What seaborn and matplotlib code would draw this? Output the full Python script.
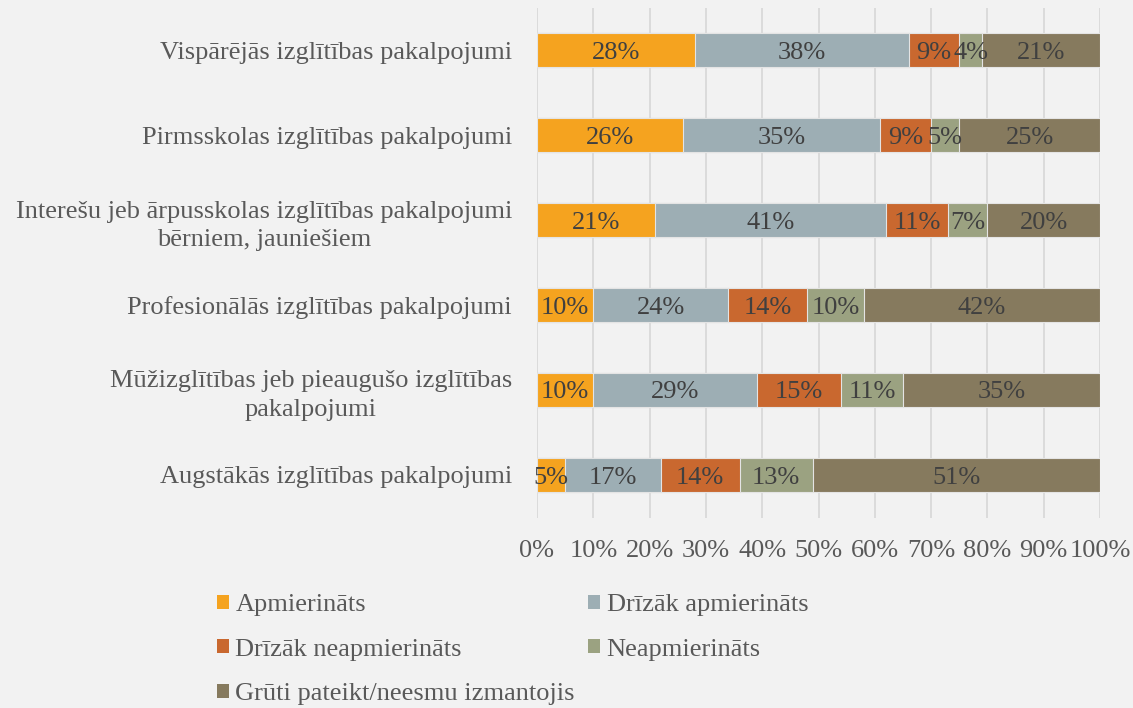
import numpy as np
import pandas as pd
import matplotlib
matplotlib.use("Agg")
import matplotlib.pyplot as plt
import seaborn as sns
from matplotlib.patches import Patch

categories = [
    "Vispārējās izglītības pakalpojumi",
    "Pirmsskolas izglītības pakalpojumi",
    "Interešu jeb ārpusskolas izglītības pakalpojumi\nbērniem, jauniešiem",
    "Profesionālās izglītības pakalpojumi",
    "Mūžizglītības jeb pieaugušo izglītības\npakalpojumi",
    "Augstākās izglītības pakalpojumi",
]
series_names = [
    "Apmierināts",
    "Drīzāk apmierināts",
    "Drīzāk neapmierināts",
    "Neapmierināts",
    "Grūti pateikt/neesmu izmantojis",
]
apmierinats = [28, 26, 21, 10, 10, 5]
drizak_apmierinats = [38, 35, 41, 24, 29, 17]
drizak_neapmierinats = [9, 9, 11, 14, 15, 14]
neapmierinats = [4, 5, 7, 10, 11, 13]
gruti_pateikt = [21, 25, 20, 42, 35, 51]
colors = ["#F5A31F", "#9DAEB4", "#C9682F", "#9BA281", "#867A5E"]
tick_values = [0, 10, 20, 30, 40, 50, 60, 70, 80, 90, 100]
tick_labels = [f"{v}%" for v in tick_values]

sns.set_theme(style="white")
plt.rcParams["font.family"] = ["Liberation Serif", "DejaVu Serif"]

FS = 19
BG = "#F2F2F2"
fig = plt.figure(figsize=(11.33, 7.08), dpi=100, facecolor=BG)
ax = fig.add_axes([537 / 1133, 1 - 517.5 / 708, 563 / 1133, 510 / 708])
ax.set_facecolor(BG)

series = np.array([apmierinats, drizak_apmierinats, drizak_neapmierinats,
                   neapmierinats, gruti_pateikt])
cum = np.cumsum(series, axis=0)

for i in reversed(range(len(series_names))):
    df = pd.DataFrame({"cat": categories, "val": cum[i]})
    sns.barplot(data=df, x="val", y="cat", orient="h", order=categories,
                color=colors[i], saturation=1, width=0.41,
                edgecolor="#E4E4E4", linewidth=0.8, ax=ax)

for i in range(len(series_names)):
    for j in range(len(categories)):
        ax.text(cum[i][j] - series[i][j] / 2, j, f"{series[i][j]}%",
                ha="center", va="center_baseline", fontsize=FS, color="#404040")

ax.set_xlim(0, 100)
ax.set_ylim(len(categories) - 0.5, -0.5)
ax.set_xticks(tick_values)
ax.set_xticklabels(tick_labels)
ax.set_yticks(range(len(categories)))
ax.set_yticklabels(categories, multialignment="center", linespacing=1.4)
ax.set_xlabel("")
ax.set_ylabel("")
ax.set_axisbelow(True)
ax.xaxis.grid(True, color="#D9D9D9", linewidth=1.3)
for s in ax.spines.values():
    s.set_visible(False)
ax.tick_params(axis="x", length=0, pad=16, labelsize=FS, labelcolor="#595959")
ax.tick_params(axis="y", length=0, pad=18, labelsize=FS, labelcolor="#595959")

handles = [Patch(facecolor=c, edgecolor="none") for c in colors]
order = [0, 2, 4, 1, 3]
fig.legend([handles[k] for k in order], [series_names[k] for k in order],
           ncol=2, loc="upper left", bbox_to_anchor=(217 / 1133, 1 - 594 / 708),
           frameon=False, fontsize=FS, handlelength=0.45, handleheight=0.45,
           handletextpad=0.25, columnspacing=0.5, labelspacing=0.86,
           labelcolor="#595959", borderaxespad=0, borderpad=0)

fig.savefig("out.png", dpi=100, facecolor=BG)
